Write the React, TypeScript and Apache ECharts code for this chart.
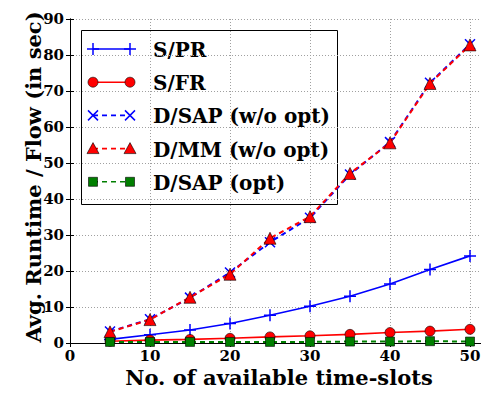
import React, { useEffect, useRef } from "react";
import * as echarts from "echarts";

// Number of available time-slots (x values)
const slots = [5, 10, 15, 20, 25, 30, 35, 40, 45, 50];

// Average runtime per flow in seconds
const sPR = [1.0, 2.3, 3.6, 5.4, 7.7, 10.2, 13.0, 16.4, 20.4, 24.2];
const sFR = [0.5, 0.8, 1.0, 1.3, 1.7, 2.0, 2.4, 2.9, 3.3, 3.8];
const dSAPNoOpt = [3.2, 6.6, 12.6, 19.6, 28.0, 34.8, 46.8, 55.8, 72.3, 83.0];
const dMMNoOpt = [3.1, 6.5, 12.7, 19.1, 29.1, 35.1, 47.1, 55.6, 72.1, 82.8];
const dSAPOpt = [0.3, 0.3, 0.3, 0.3, 0.3, 0.3, 0.4, 0.4, 0.5, 0.4];

const seriesNames = ["S/PR", "S/FR", "D/SAP (w/o opt)", "D/MM (w/o opt)", "D/SAP (opt)"];

const xTitle = "No. of available time-slots";
const yTitle = "Avg. Runtime / Flow (in sec)";

const FONT = "'DejaVu Serif', serif";
const BLUE = "#0000ff";
const RED = "#ff0000";
const GREEN = "#007f00";

const PLUS = "path://M0,5L10,5M5,0L5,10";
const CROSS = "path://M0,0L10,10M10,0L0,10";

const pairs = (ys: number[]) => slots.map((x, i) => [x, ys[i]]);

function legendMarker(kind: string, cx: number, cy: number): any[] {
  const s = 6;
  switch (kind) {
    case "plus":
      return [
        { type: "line", shape: { x1: cx - s, y1: cy, x2: cx + s, y2: cy }, style: { stroke: BLUE, lineWidth: 1.5 } },
        { type: "line", shape: { x1: cx, y1: cy - s, x2: cx, y2: cy + s }, style: { stroke: BLUE, lineWidth: 1.5 } },
      ];
    case "cross":
      return [
        { type: "line", shape: { x1: cx - 5, y1: cy - 5, x2: cx + 5, y2: cy + 5 }, style: { stroke: BLUE, lineWidth: 1.5 } },
        { type: "line", shape: { x1: cx + 5, y1: cy - 5, x2: cx - 5, y2: cy + 5 }, style: { stroke: BLUE, lineWidth: 1.5 } },
      ];
    case "circle":
      return [{ type: "circle", shape: { cx, cy, r: 5 }, style: { fill: RED, stroke: "#000", lineWidth: 0.6 } }];
    case "triangle":
      return [
        {
          type: "polygon",
          shape: { points: [[cx, cy - 6], [cx + 6, cy + 5], [cx - 6, cy + 5]] },
          style: { fill: RED, stroke: "#000", lineWidth: 0.6 },
        },
      ];
    default:
      return [
        { type: "rect", shape: { x: cx - 4.5, y: cy - 4.5, width: 9, height: 9 }, style: { fill: GREEN, stroke: "#000", lineWidth: 0.6 } },
      ];
  }
}

function buildLegend(): any[] {
  const entries = [
    { name: seriesNames[0], color: BLUE, dash: null, marker: "plus" },
    { name: seriesNames[1], color: RED, dash: null, marker: "circle" },
    { name: seriesNames[2], color: BLUE, dash: [5, 4], marker: "cross" },
    { name: seriesNames[3], color: RED, dash: [5, 4], marker: "triangle" },
    { name: seriesNames[4], color: GREEN, dash: [5, 4], marker: "square" },
  ];
  const items: any[] = [
    { type: "rect", shape: { x: 81.5, y: 30.5, width: 256, height: 174 }, style: { fill: "#fff", stroke: "#000", lineWidth: 1 } },
  ];
  entries.forEach((e, i) => {
    const y = 49 + i * 33.2;
    items.push({
      type: "line",
      shape: { x1: 93, y1: y, x2: 130, y2: y },
      style: { stroke: e.color, lineWidth: 1.6, lineDash: e.dash || undefined },
    });
    items.push(...legendMarker(e.marker, 93, y));
    items.push(...legendMarker(e.marker, 130, y));
    items.push({
      type: "text",
      x: 153,
      y: y + 1,
      style: { text: e.name, font: `bold 20px ${FONT}`, fill: "#000", align: "left", verticalAlign: "middle" },
    });
  });
  return items;
}

export default function App() {
  const ref = useRef<HTMLDivElement>(null);

  useEffect(() => {
    if (!ref.current) return;
    const chart = echarts.init(ref.current, undefined, { renderer: "svg" });

    const axisLine = { show: true, lineStyle: { color: "#000", width: 1 } };
    const tick = { show: true, inside: true, length: 4, lineStyle: { color: "#000", width: 1 } };
    const grid = { show: true, lineStyle: { color: "#a0a0a0", width: 1, type: [1, 2] } };
    const label = { fontFamily: FONT, fontWeight: "bold", fontSize: 15, color: "#000" };

    chart.setOption({
      animation: false,
      backgroundColor: "#fff",
      grid: { left: 70, right: 3, top: 19, bottom: 51, containLabel: false },
      xAxis: [
        {
          type: "value",
          min: 0,
          max: 52,
          interval: 10,
          axisLine,
          axisTick: tick,
          splitLine: grid,
          axisLabel: { ...label, margin: 5, formatter: (v: number) => (v % 10 === 0 ? String(v) : "") },
        },
        {
          type: "value",
          position: "top",
          min: 0,
          max: 52,
          interval: 10,
          axisLine,
          axisTick: tick,
          splitLine: { show: false },
          axisLabel: { show: false },
        },
      ],
      yAxis: [
        {
          type: "value",
          min: 0,
          max: 90,
          interval: 10,
          axisLine,
          axisTick: tick,
          splitLine: grid,
          axisLabel: { ...label, margin: 6 },
        },
        {
          type: "value",
          position: "right",
          min: 0,
          max: 90,
          interval: 10,
          axisLine,
          axisTick: tick,
          splitLine: { show: false },
          axisLabel: { show: false },
        },
      ],
      series: [
        {
          name: seriesNames[0],
          type: "line",
          data: pairs(sPR),
          lineStyle: { color: BLUE, width: 1.6 },
          symbol: PLUS,
          symbolSize: 12,
          itemStyle: { color: BLUE, borderColor: BLUE, borderWidth: 1.5 },
          z: 2,
        },
        {
          name: seriesNames[1],
          type: "line",
          data: pairs(sFR),
          lineStyle: { color: RED, width: 1.6 },
          symbol: "circle",
          symbolSize: 10,
          itemStyle: { color: RED, borderColor: "#000", borderWidth: 0.6 },
          z: 3,
        },
        {
          name: seriesNames[2],
          type: "line",
          data: pairs(dSAPNoOpt),
          lineStyle: { color: BLUE, width: 2, type: [5, 4] },
          symbol: CROSS,
          symbolSize: 10,
          itemStyle: { color: BLUE, borderColor: BLUE, borderWidth: 1.5 },
          z: 4,
        },
        {
          name: seriesNames[3],
          type: "line",
          data: pairs(dMMNoOpt),
          lineStyle: { color: RED, width: 2, type: [5, 4] },
          symbol: "triangle",
          symbolSize: 12,
          itemStyle: { color: RED, borderColor: "#000", borderWidth: 0.6 },
          z: 5,
        },
        {
          name: seriesNames[4],
          type: "line",
          data: pairs(dSAPOpt),
          lineStyle: { color: GREEN, width: 2, type: [5, 4] },
          symbol: "rect",
          symbolSize: 9,
          itemStyle: { color: GREEN, borderColor: "#000", borderWidth: 0.6 },
          z: 6,
        },
      ],
      graphic: [
        ...buildLegend(),
        {
          type: "text",
          x: 279,
          y: 377,
          style: { text: xTitle, font: `bold 21px ${FONT}`, fill: "#000", align: "center", verticalAlign: "middle" },
        },
        {
          type: "text",
          x: 33,
          y: 177,
          rotation: Math.PI / 2,
          style: { text: yTitle, font: `bold 21px ${FONT}`, fill: "#000", align: "center", verticalAlign: "middle" },
        },
      ],
    });

    return () => chart.dispose();
  }, []);

  return <div ref={ref} style={{ width: 489, height: 394, margin: -8 }} />;
}
